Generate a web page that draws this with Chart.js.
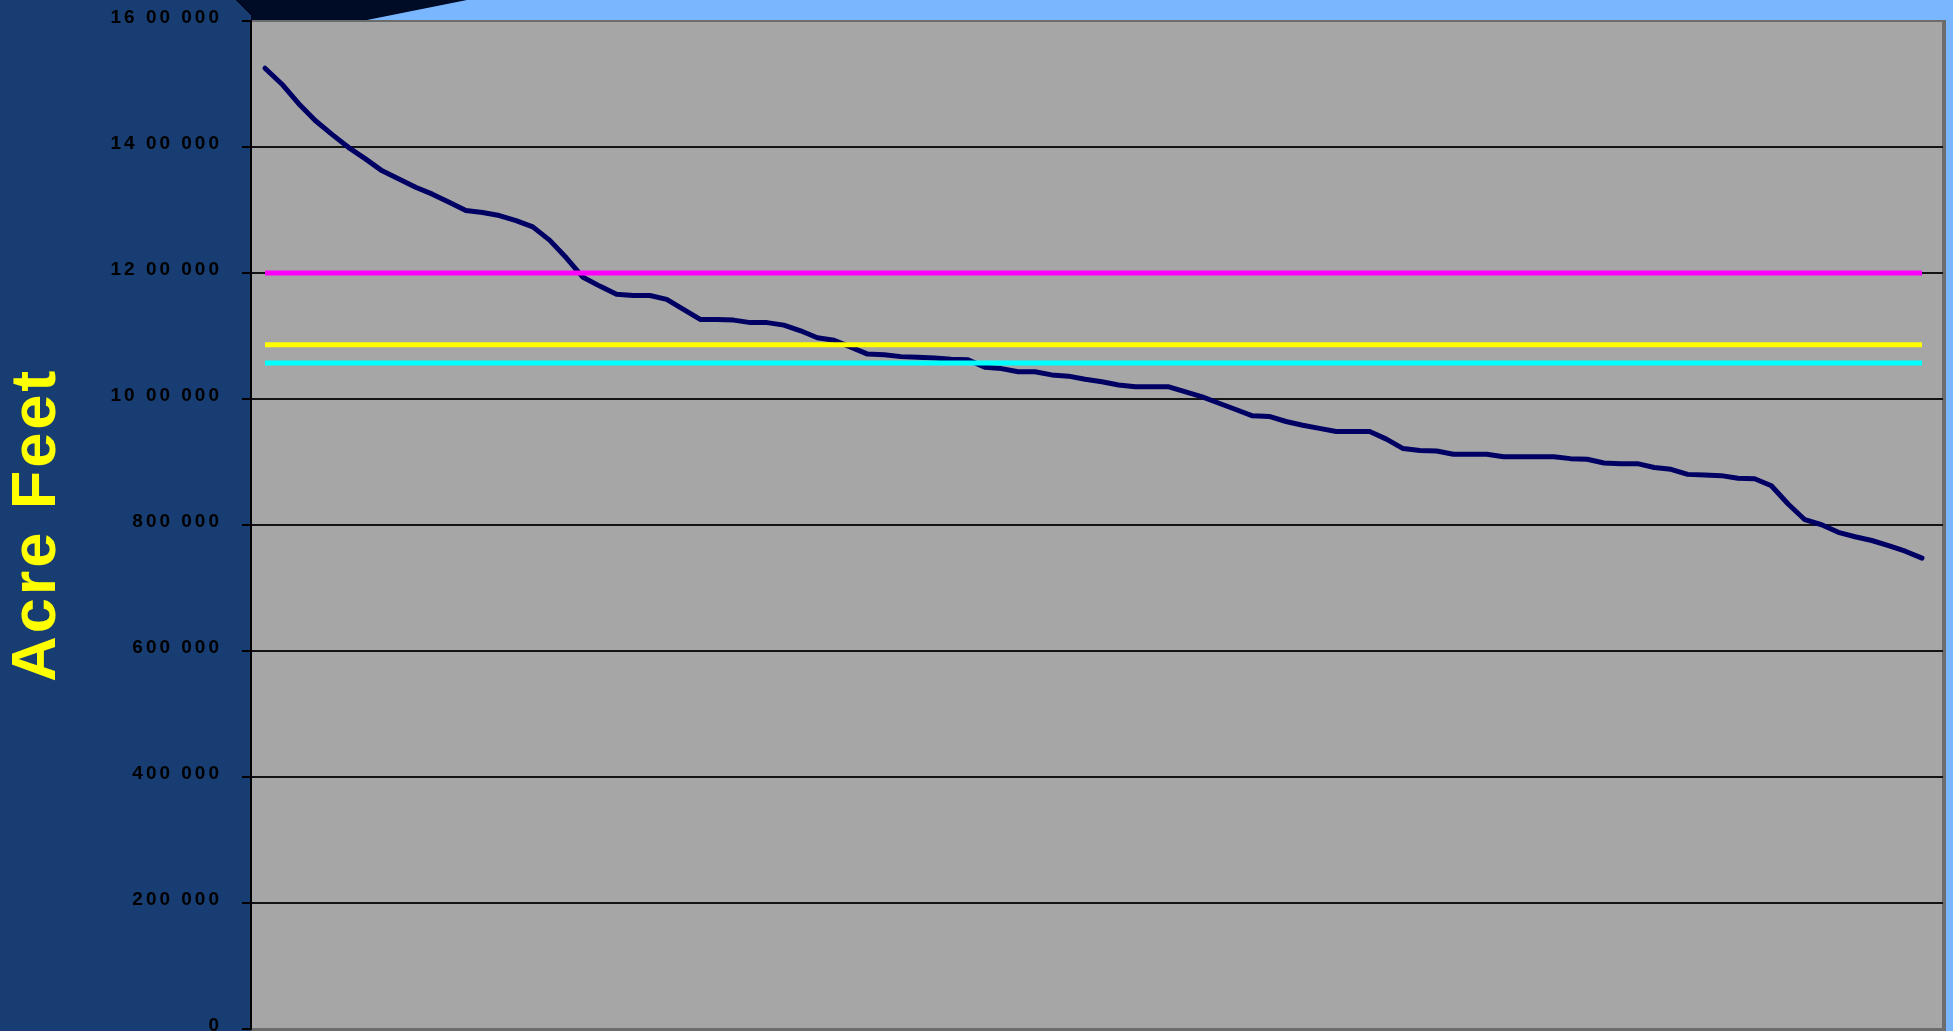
<!DOCTYPE html>
<html>
<head>
<meta charset="utf-8">
<title>Acre Feet</title>
<script src="https://cdn.jsdelivr.net/npm/chart.js@4.4.1/dist/chart.umd.min.js"></script>
<style>
  html, body { margin: 0; padding: 0; background: #79b6fd; overflow: hidden; }
  canvas { display: block; }
</style>
</head>
<body>
<canvas id="chart" width="1953" height="1031"></canvas>
<script>
// Rank of each year once the annual volumes are sorted from largest to smallest
const ranks = [
  1, 2, 3, 4, 5, 6, 7, 8, 9, 10,
  11, 12, 13, 14, 15, 16, 17, 18, 19, 20,
  21, 22, 23, 24, 25, 26, 27, 28, 29, 30,
  31, 32, 33, 34, 35, 36, 37, 38, 39, 40,
  41, 42, 43, 44, 45, 46, 47, 48, 49, 50,
  51, 52, 53, 54, 55, 56, 57, 58, 59, 60,
  61, 62, 63, 64, 65, 66, 67, 68, 69, 70,
  71, 72, 73, 74, 75, 76, 77, 78, 79, 80,
  81, 82, 83, 84, 85, 86, 87, 88, 89, 90,
  91, 92, 93, 94, 95, 96, 97, 98, 99, 100
];

// Annual volume for each rank, acre feet
const annualVolume = [
  1525000, 1500000, 1469000, 1442000, 1420000, 1399000, 1381000, 1362000, 1349000, 1336000,
  1325000, 1312000, 1299000, 1296000, 1291000, 1283000, 1273000, 1252000, 1224000, 1193000,
  1179000, 1166000, 1164000, 1164000, 1158000, 1142000, 1126000, 1126000, 1125000, 1121000,
  1121000, 1117000, 1108000, 1097000, 1093000, 1082000, 1071000, 1070000, 1067000, 1066000,
  1065000, 1063000, 1062000, 1050000, 1048000, 1043000, 1043000, 1038000, 1036000, 1031000,
  1027000, 1022000, 1019000, 1019000, 1019000, 1011000, 1003000, 993000, 983000, 973000,
  972000, 964000, 958000, 953000, 948000, 948000, 948000, 936000, 921000, 918000,
  917000, 912000, 912000, 912000, 908000, 908000, 908000, 908000, 905000, 904000,
  898000, 897000, 897000, 891000, 888000, 880000, 879000, 878000, 874000, 873000,
  862000, 833000, 808000, 800000, 788000, 781000, 775000, 767000, 758000, 747000
];

// Horizontal reference levels, acre feet
const levelValues = [1200000, 1086000, 1057000];

// Value axis ticks and the labels printed beside them
const yTickValues = [0, 200000, 400000, 600000, 800000, 1000000, 1200000, 1400000, 1600000];
const yTickLabels = ['0', '200 000', '400 000', '600 000', '800 000', '10 00 000', '12 00 000', '14 00 000', '16 00 000'];

const levelColors = ['#ff00ff', '#ffff00', '#00ffff'];

// Slide backdrop: blue side panel, light blue band, dark wedge, grey plot field
const backdrop = {
  id: 'backdrop',
  beforeDraw(chart) {
    const { ctx, chartArea: a, width, height } = chart;
    ctx.save();
    ctx.fillStyle = '#79b6fd';
    ctx.fillRect(0, 0, width, height);

    ctx.fillStyle = '#173d72';
    ctx.beginPath();
    ctx.moveTo(0, 0);
    ctx.lineTo(235, 0);
    ctx.lineTo(a.left, 16);
    ctx.lineTo(a.left, height);
    ctx.lineTo(0, height);
    ctx.closePath();
    ctx.fill();

    ctx.fillStyle = '#000c26';
    ctx.beginPath();
    ctx.moveTo(235, 0);
    ctx.lineTo(467, 0);
    ctx.lineTo(362, a.top);
    ctx.lineTo(a.left, a.top);
    ctx.lineTo(a.left, 16);
    ctx.closePath();
    ctx.fill();

    ctx.fillStyle = '#6c6c6c';
    ctx.fillRect(a.left, a.top - 1, a.right + 3 - a.left, height - a.top + 1);
    ctx.fillStyle = '#a6a6a6';
    ctx.fillRect(a.left, a.top, a.right - a.left - 1, a.bottom - a.top);
    ctx.restore();

    // wide letter spacing for the axis text
    ctx.letterSpacing = '3px';
  }
};

const firstRank = ranks[0];
const lastRank = ranks[ranks.length - 1];

const levelDatasets = levelValues.map((v, i) => ({
  data: [{ x: firstRank, y: v }, { x: lastRank, y: v }],
  borderColor: levelColors[i],
  borderWidth: 5,
  borderCapStyle: 'butt',
  pointRadius: 0,
  tension: 0,
  order: 0
}));

const volumeDataset = {
  data: ranks.map((r, i) => ({ x: r, y: annualVolume[i] })),
  borderColor: '#000064',
  borderWidth: 5,
  borderCapStyle: 'round',
  borderJoinStyle: 'round',
  pointRadius: 0,
  tension: 0,
  order: 1
};

new Chart(document.getElementById('chart'), {
  type: 'line',
  data: { datasets: [...levelDatasets, volumeDataset] },
  plugins: [backdrop],
  options: {
    responsive: false,
    animation: false,
    devicePixelRatio: 1,
    layout: { padding: { left: 0, top: 21, right: 10, bottom: 2.5 } },
    plugins: { legend: { display: false }, tooltip: { enabled: false } },
    scales: {
      x: {
        type: 'linear',
        display: false,
        min: 0.1635,
        max: 101.254
      },
      y: {
        type: 'linear',
        min: 0,
        max: 1600000,
        afterFit(scale) {
          scale.width = 251;
          scale.paddingTop = 0;
          scale.paddingBottom = 0;
        },
        afterBuildTicks(scale) { scale.ticks = yTickValues.map(v => ({ value: v })); },
        grid: {
          color: c => (c.tick && (c.tick.value === 0 || c.tick.value === 1600000)) ? '#6c6c6c' : '#141414',
          lineWidth: 2,
          drawTicks: true,
          tickLength: 9,
          tickColor: '#000000',
          tickWidth: 2
        },
        border: { display: true, color: '#000000', width: 2 },
        ticks: {
          callback: v => {
            const i = yTickValues.indexOf(v);
            return i >= 0 ? yTickLabels[i] : '';
          },
          color: '#000000',
          padding: 20,
          labelOffset: -3,
          font: { family: '"Liberation Sans", Arial, sans-serif', size: 19, weight: 'bold', lineHeight: 0.2 }
        },
        title: {
          display: true,
          text: 'Acre Feet',
          color: '#ffff00',
          padding: 0,
          font: { family: '"Liberation Sans", Arial, sans-serif', size: 63, weight: 'bold', lineHeight: 1.2 }
        }
      }
    }
  }
});
</script>
</body>
</html>
